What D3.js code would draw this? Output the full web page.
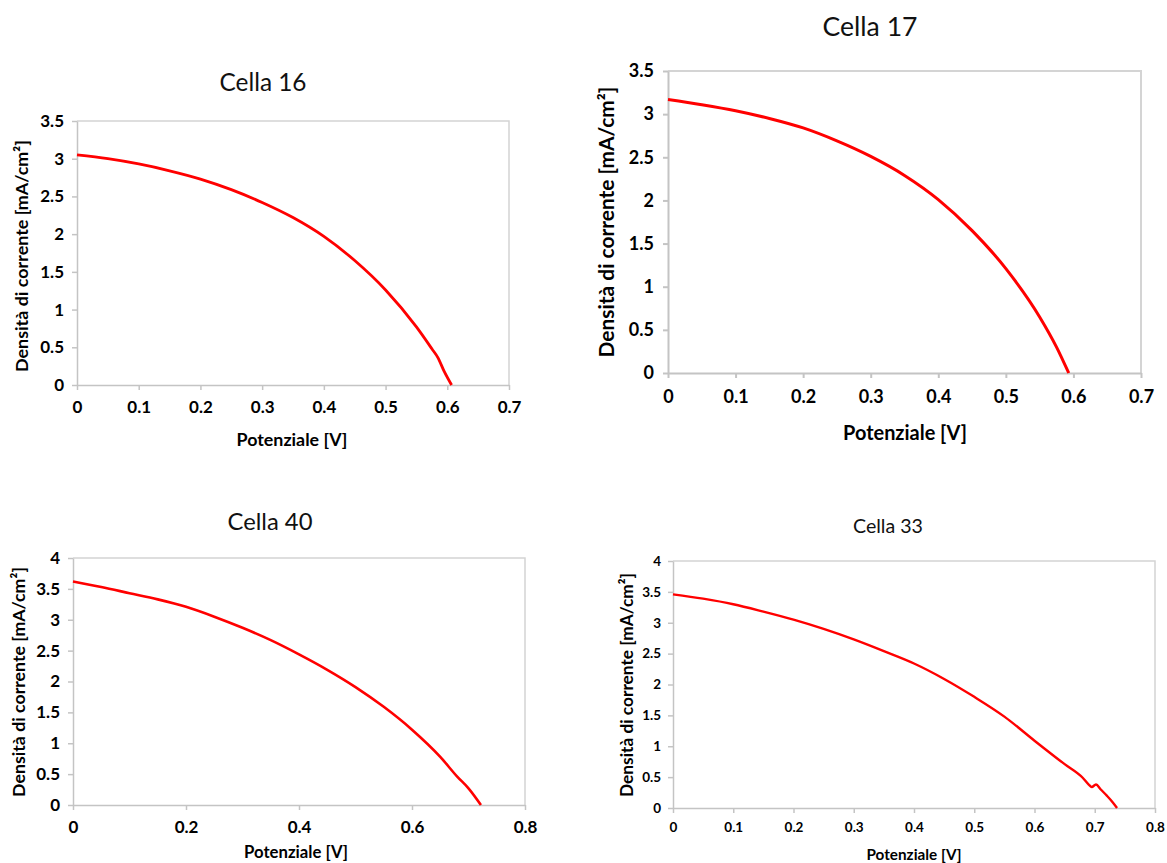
<!DOCTYPE html>
<html>
<head>
<meta charset="utf-8">
<script src="https://cdn.jsdelivr.net/npm/d3@7"></script>
<style>
  html, body { margin: 0; padding: 0; background: #fff; }
  svg { display: block; font-family: Lato, "Open Sans", sans-serif; }
</style>
</head>
<body>
<svg id="chart" width="1167" height="863"></svg>
<script>
// ---------- DATA ----------
const titles = ["Cella 16", "Cella 17", "Cella 40", "Cella 33"];
const xAxisTitle = "Potenziale [V]";
const yAxisTitle = "Densità di corrente [mA/cm²]";

const cella16V = [0, 0.05, 0.1, 0.15, 0.2, 0.25, 0.3, 0.35, 0.4, 0.45, 0.5, 0.55, 0.575, 0.585, 0.595, 0.607];
const cella16J = [3.05, 3.0, 2.93, 2.84, 2.73, 2.59, 2.42, 2.22, 1.97, 1.65, 1.26, 0.77, 0.48, 0.36, 0.18, 0];

const cella17V = [0, 0.05, 0.1, 0.15, 0.2, 0.25, 0.3, 0.35, 0.4, 0.45, 0.5, 0.55, 0.575, 0.593];
const cella17J = [3.17, 3.11, 3.04, 2.95, 2.84, 2.69, 2.51, 2.29, 2.01, 1.65, 1.21, 0.65, 0.3, 0];

const cella40V = [0, 0.05, 0.1, 0.15, 0.2, 0.25, 0.3, 0.35, 0.4, 0.45, 0.5, 0.55, 0.6, 0.65, 0.68, 0.7, 0.722];
const cella40J = [3.62, 3.53, 3.43, 3.33, 3.21, 3.05, 2.87, 2.67, 2.44, 2.19, 1.91, 1.59, 1.22, 0.78, 0.46, 0.27, 0];

const cella33V = [0, 0.05, 0.1, 0.15, 0.2, 0.25, 0.3, 0.35, 0.4, 0.45, 0.5, 0.55, 0.6, 0.65, 0.68, 0.69, 0.695, 0.702, 0.71, 0.72, 0.73, 0.737];
const cella33J = [3.46, 3.39, 3.3, 3.18, 3.05, 2.9, 2.73, 2.54, 2.34, 2.09, 1.8, 1.48, 1.09, 0.71, 0.49, 0.38, 0.34, 0.38, 0.3, 0.2, 0.09, 0];

const xTicksA = [0, 0.1, 0.2, 0.3, 0.4, 0.5, 0.6, 0.7];
const yTicksA = [0, 0.5, 1, 1.5, 2, 2.5, 3, 3.5];
const xTicksC = [0, 0.2, 0.4, 0.6, 0.8];
const xTicksD = [0, 0.1, 0.2, 0.3, 0.4, 0.5, 0.6, 0.7, 0.8];
const yTicksB = [0, 0.5, 1, 1.5, 2, 2.5, 3, 3.5, 4];

const seriesV = [cella16V, cella17V, cella40V, cella33V];
const seriesJ = [cella16J, cella17J, cella40J, cella33J];
const xTickSets = [xTicksA, xTicksA, xTicksC, xTicksD];
const yTickSets = [yTicksA, yTicksA, yTicksB, yTicksB];

// ---------- LAYOUT ----------
const layout = [
  { l: 77,  r: 509,  t: 121, b: 385, tick: 17,   tpadY: 8,  tpadX: 11,
    title: { x: 263, y: 91,  w: 87 },  yt: { x: 22,  y: 256, w: 232 }, xt: { x: 292, y: 446, w: 111 }, lw: 2.8, fw: 1.5 },
  { l: 668, r: 1141, t: 71,  b: 373, tick: 18,   tpadY: 9,  tpadX: 12,
    title: { x: 870, y: 36,  w: 95 },  yt: { x: 607, y: 222, w: 271 }, xt: { x: 905, y: 440, w: 124 }, lw: 3, fw: 2 },
  { l: 73,  r: 525,  t: 558, b: 805, tick: 17,   tpadY: 8,  tpadX: 11,
    title: { x: 270, y: 530, w: 85 },  yt: { x: 19,  y: 682, w: 230 }, xt: { x: 296, y: 858, w: 104 }, lw: 2.6, fw: 1.5 },
  { l: 673, r: 1155, t: 561, b: 808, tick: 13.5, tpadY: 7,  tpadX: 9,
    title: { x: 888, y: 533, w: 70 },  yt: { x: 627, y: 685, w: 224 }, xt: { x: 914, y: 860, w: 95 }, lw: 2.4, fw: 1.5 }
];

const svg = d3.select("#chart");
const fmt = d => String(+d.toFixed(1));

function fitText(sel, target) {
  const base = 20;
  sel.attr("font-size", base);
  const w = sel.node().getComputedTextLength();
  sel.attr("font-size", base * target / w);
}

layout.forEach((L, i) => {
  const xt = xTickSets[i], yt = yTickSets[i];
  const x = d3.scaleLinear().domain([0, xt[xt.length - 1]]).range([L.l, L.r]);
  const y = d3.scaleLinear().domain([0, yt[yt.length - 1]]).range([L.b, L.t]);
  const g = svg.append("g");

  // frame (top & right)
  g.append("path")
    .attr("d", `M${L.l},${L.t}H${L.r}V${L.b}`)
    .attr("fill", "none").attr("stroke", "#d4d4d4").attr("stroke-width", L.fw);

  const xAxis = d3.axisBottom(x).tickValues(xt).tickFormat(fmt).tickSizeInner(5).tickSizeOuter(0).tickPadding(L.tpadX);
  const yAxis = d3.axisLeft(y).tickValues(yt).tickFormat(fmt).tickSizeInner(5).tickSizeOuter(0).tickPadding(L.tpadY);

  const gx = g.append("g").attr("transform", `translate(0,${L.b})`).call(xAxis);
  const gy = g.append("g").attr("transform", `translate(${L.l},0)`).call(yAxis);
  [gx, gy].forEach(a => {
    a.attr("font-size", L.tick).attr("font-family", "Lato, sans-serif");
    a.select(".domain").attr("stroke", "#c4c4c4").attr("stroke-width", L.fw);
    a.selectAll(".tick line").attr("stroke", "#c4c4c4").attr("stroke-width", L.fw);
    a.selectAll(".tick text").attr("fill", "#000").attr("font-weight", "bold")
      .style("font-size", L.tick + "px");
  });

  // curve
  const pts = seriesV[i].map((v, k) => [v, seriesJ[i][k]]);
  g.append("path").datum(pts)
    .attr("fill", "none").attr("stroke", "#ff0000").attr("stroke-width", L.lw)
    .attr("stroke-linejoin", "round")
    .attr("d", d3.line().x(d => x(d[0])).y(d => y(d[1])).curve(d3.curveMonotoneX));

  // title
  const tt = g.append("text").text(titles[i])
    .attr("x", L.title.x).attr("y", L.title.y).attr("text-anchor", "middle")
    .attr("fill", "#111");
  fitText(tt, L.title.w);

  // x axis title
  const xa = g.append("text").text(xAxisTitle)
    .attr("x", L.xt.x).attr("y", L.xt.y).attr("text-anchor", "middle")
    .attr("font-weight", "bold").attr("fill", "#000");
  fitText(xa, L.xt.w);

  // y axis title
  const ya = g.append("text").text(yAxisTitle)
    .attr("transform", `translate(${L.yt.x},${L.yt.y}) rotate(-90)`)
    .attr("text-anchor", "middle").attr("dy", "0.35em")
    .attr("font-weight", "bold").attr("fill", "#000");
  fitText(ya, L.yt.w);
});
</script>
</body>
</html>
